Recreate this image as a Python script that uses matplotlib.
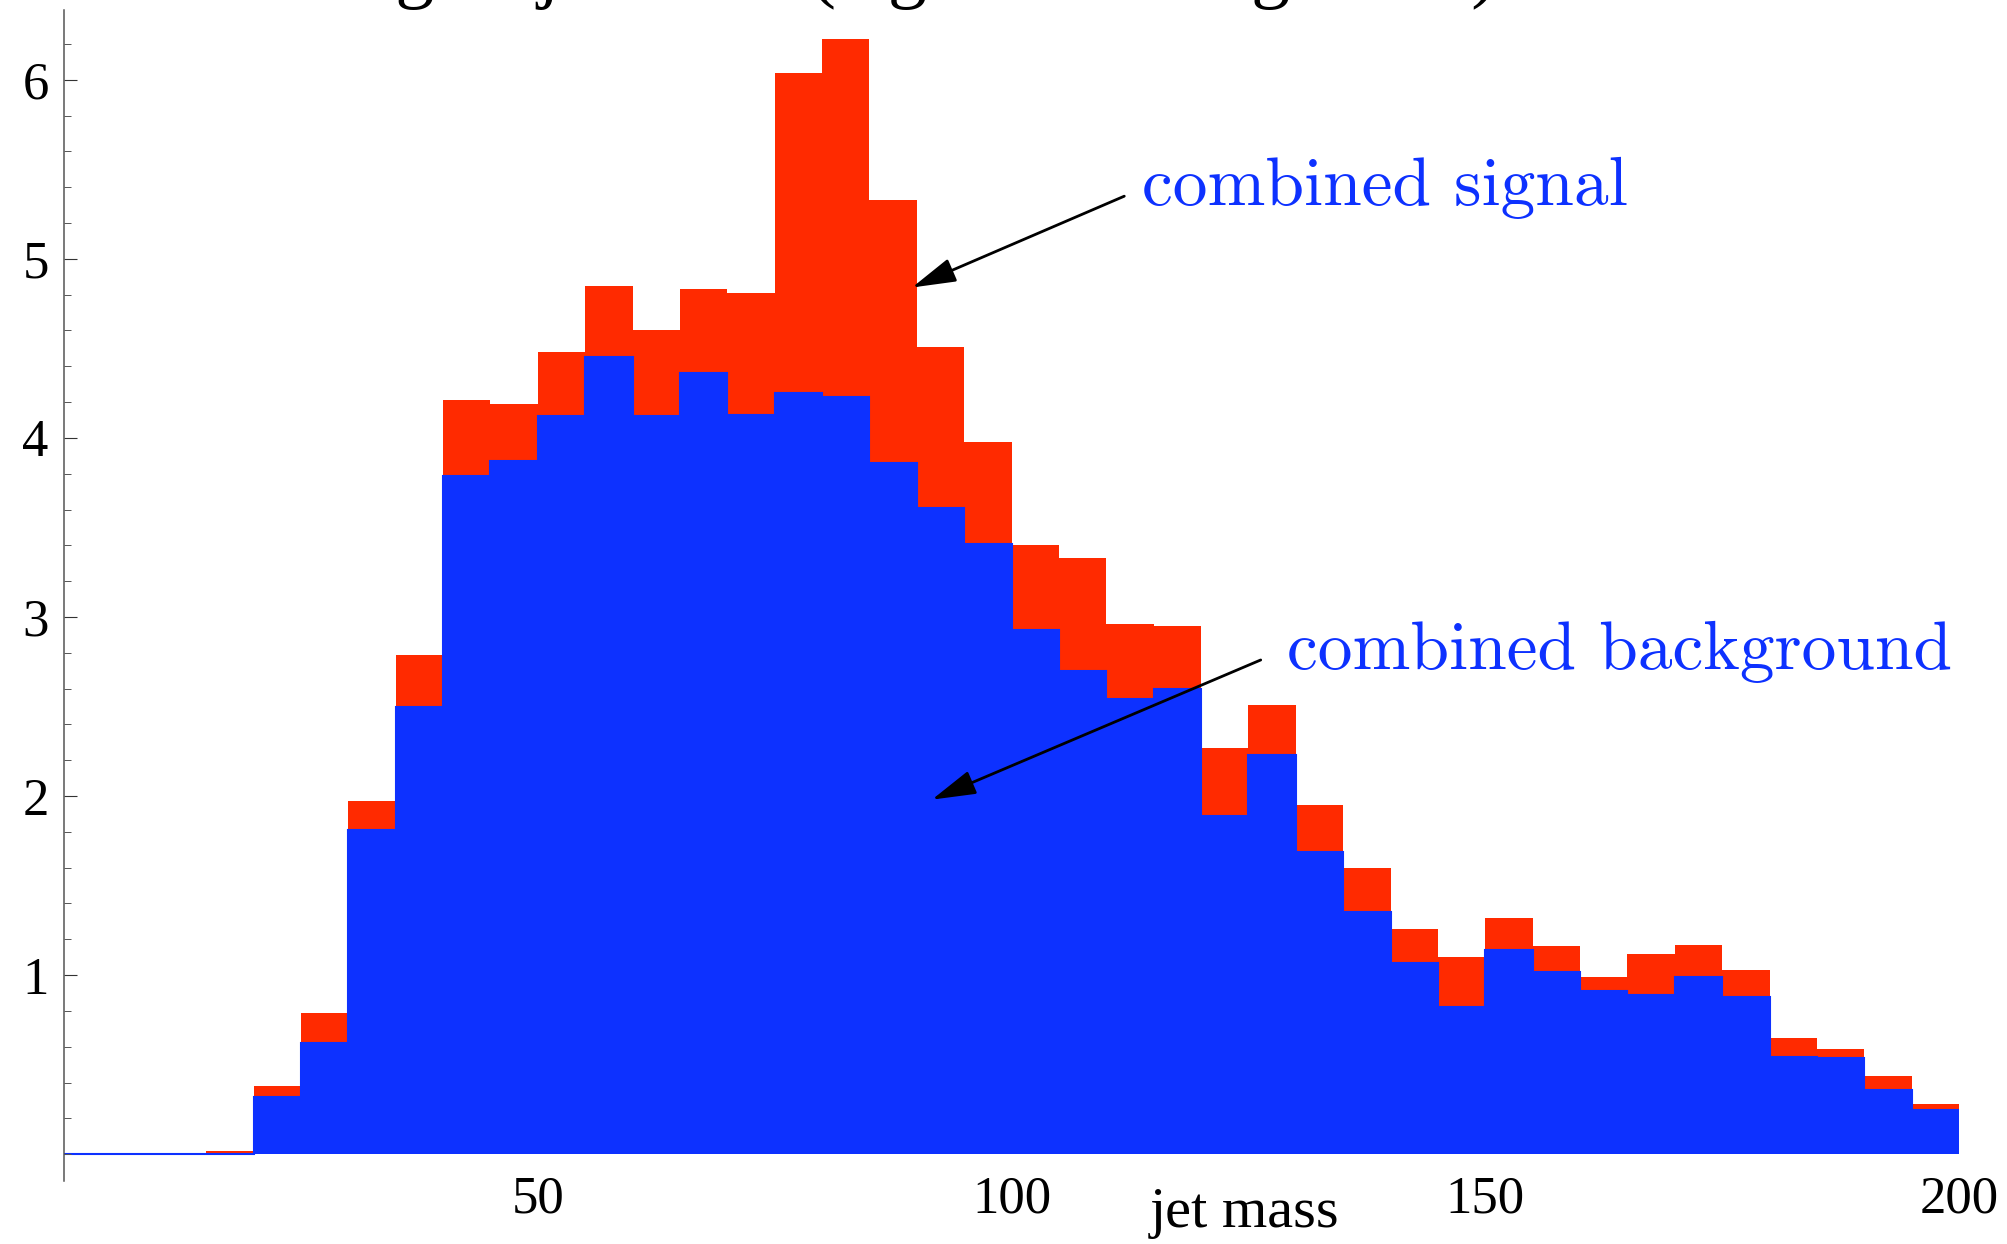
import matplotlib
matplotlib.use("Agg")
import matplotlib.pyplot as plt
from matplotlib.ticker import MultipleLocator
import numpy as np

# histogram bins (jet mass, 5 GeV wide)
bin_edges = np.arange(0, 205, 5)

# background only (blue) and signal+background (red top), one value per bin
background = [0, 0, 0, 0, 0.32, 0.62, 1.81, 2.50, 3.79, 3.87,
              4.12, 4.45, 4.12, 4.36, 4.13, 4.25, 4.23, 3.86, 3.61, 3.41,
              2.93, 2.70, 2.54, 2.60, 1.89, 2.23, 1.69, 1.35, 1.07, 0.82,
              1.14, 1.02, 0.91, 0.89, 0.99, 0.88, 0.54, 0.535, 0.36, 0.245]
total = [0, 0, 0, 0.02, 0.38, 0.79, 1.97, 2.79, 4.21, 4.19,
         4.48, 4.85, 4.60, 4.83, 4.81, 6.04, 6.23, 5.33, 4.51, 3.98,
         3.40, 3.33, 2.96, 2.95, 2.27, 2.51, 1.95, 1.60, 1.26, 1.10,
         1.32, 1.16, 0.99, 1.12, 1.17, 1.03, 0.65, 0.59, 0.435, 0.28]

red = "#ff2a00"
blue = "#0d31ff"
serif = "Liberation Serif"

fig = plt.figure(figsize=(20.08, 12.44), dpi=100)
ax = fig.add_axes([0.0319, 0.0506, 0.9437, 0.9414])

ax.stairs(total, bin_edges, fill=True, color=red, lw=0)
ax.stairs(background, bin_edges, fill=True, color=blue, lw=0)
ax.stairs(background, bin_edges, color=blue, lw=1.5, baseline=0)

ax.set_xlim(0, 200)
ax.set_ylim(-0.15, 6.39)

for side in ["top", "right", "bottom"]:
    ax.spines[side].set_visible(False)
ax.spines["left"].set_color("#555555")
ax.spines["left"].set_linewidth(1.1)

ax.set_yticks([1, 2, 3, 4, 5, 6])
ax.yaxis.set_minor_locator(MultipleLocator(0.2))
ax.tick_params(axis="y", which="major", direction="in", length=9, width=0.8,
               color="#333333", pad=11, labelsize=38)
ax.tick_params(axis="y", which="minor", direction="in", length=5, width=0.7,
               color="#555555")
ax.set_xticks([50, 100, 150, 200])
ax.tick_params(axis="x", length=0, pad=-4, labelsize=38)
for lab in ax.get_xticklabels() + ax.get_yticklabels():
    lab.set_fontfamily(serif)

fig.text(0.620, 0.0137, "jet mass", fontsize=42, family=serif,
         ha="center", va="baseline")

# title sits mostly above the canvas, only the descenders show (as in the original)
fig.text(0.7455, 1.0056, "Binning of jet mass (signal + background)",
         fontsize=56, family=serif, ha="right", va="baseline")

arrow = dict(arrowstyle="-|>,head_length=0.9,head_width=0.25", color="black",
             lw=2.0, shrinkA=0, shrinkB=0, mutation_scale=30)
ax.annotate("", xy=(89.5, 4.84), xytext=(111.9, 5.35), arrowprops=arrow)
ax.annotate("", xy=(91.6, 1.98), xytext=(126.3, 2.76), arrowprops=arrow)
ax.text(113.8, 5.30, "combined signal", color=blue, fontsize=50,
        family="cmr10", ha="left", va="baseline")
ax.text(129.1, 2.71, "combined background", color=blue, fontsize=50,
        family="cmr10", ha="left", va="baseline")

fig.savefig("out.png", dpi=100)
